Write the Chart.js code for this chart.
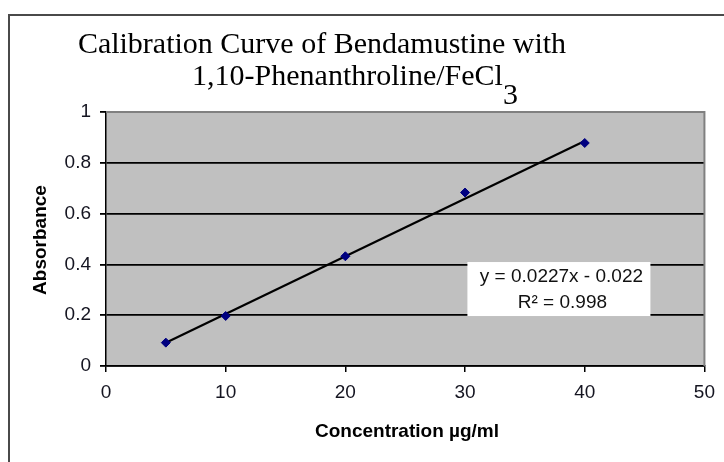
<!DOCTYPE html>
<html>
<head>
<meta charset="utf-8">
<script src="https://cdn.jsdelivr.net/npm/chart.js@4"></script>
<style>
  html, body { margin: 0; padding: 0; background: #fff; }
  #wrap { width: 724px; height: 462px; }
</style>
</head>
<body>
<div id="wrap"><canvas id="chart_cal" width="724" height="462"></canvas></div>
<script>
// concentration (ug/ml) and measured absorbance
var conc = [5, 10, 20, 30, 40];
var absorb = [0.092, 0.197, 0.432, 0.683, 0.878];

// linear trendline end points, y = 0.0227x - 0.022
var trend_x = [5, 40];
var trend_y = [0.0915, 0.886];

var x_ticks = [0, 10, 20, 30, 40, 50];
var y_ticks = [0, 0.2, 0.4, 0.6, 0.8, 1];

var titulo_1 = "Calibration Curve of Bendamustine with";
var titulo_2 = "1,10-Phenanthroline/FeCl";
var titulo_sub = "3";
var eq_lines = ["y = 0.0227x - 0.022", "R\u00b2 = 0.998"];
var eq_at = [37.8, 0.303]; // center of the label box, in data units

var puntos = conc.map(function (c, i) { return { x: c, y: absorb[i] }; });
var linea = trend_x.map(function (c, i) { return { x: c, y: trend_y[i] }; });

var fondo = {
    id: "fondo",
    beforeDraw: function (chart) {
        var c = chart.ctx, a = chart.chartArea;
        c.save();
        c.fillStyle = "#fff";
        c.fillRect(0, 0, chart.width, chart.height);
        // outer frame
        c.strokeStyle = "#4a4a4a";
        c.lineWidth = 2;
        c.beginPath();
        c.moveTo(9, 462);
        c.lineTo(9, 15);
        c.lineTo(724, 15);
        c.stroke();
        c.fillStyle = "#c0c0c0";
        c.fillRect(a.left, a.top, a.right - a.left, a.bottom - a.top);
        c.restore();
    },
    afterDraw: function (chart) {
        var c = chart.ctx, a = chart.chartArea;
        var sx = chart.scales.x, sy = chart.scales.y;
        c.save();
        // gray plot border top / right
        c.strokeStyle = "#808080";
        c.lineWidth = 2;
        c.beginPath();
        c.moveTo(a.left, a.top);
        c.lineTo(a.right, a.top);
        c.lineTo(a.right, a.bottom);
        c.stroke();

        // title
        c.fillStyle = "#000";
        c.textBaseline = "alphabetic";
        c.font = "30px 'Liberation Serif', 'Times New Roman', serif";
        c.textAlign = "center";
        c.fillText(titulo_1, 322, 53);
        var w2 = c.measureText(titulo_2).width;
        var w3 = c.measureText(titulo_sub).width;
        var x2 = 355 - (w2 + w3) / 2;
        c.textAlign = "left";
        c.fillText(titulo_2, x2, 85);
        c.fillText(titulo_sub, x2 + w2, 104);

        // axis titles
        c.font = "bold 19px 'Liberation Sans', Arial, sans-serif";
        c.textAlign = "center";
        c.textBaseline = "middle";
        c.fillText("Concentration \u00b5g/ml", 407, 432);
        c.translate(41, 240);
        c.rotate(-Math.PI / 2);
        c.fillText("Absorbance", 0, 0);
        c.setTransform(1, 0, 0, 1, 0, 0);

        // equation label
        var cx = sx.getPixelForValue(eq_at[0]);
        var cy = sy.getPixelForValue(eq_at[1]);
        c.fillStyle = "#fff";
        c.fillRect(cx - 91, cy - 27, 183, 54);
        c.fillStyle = "#111";
        c.font = "19px 'Liberation Sans', Arial, sans-serif";
        c.textBaseline = "alphabetic";
        c.fillText(eq_lines[0], cx + 3, cy - 7);
        c.fillText(eq_lines[1], cx + 4, cy + 19);
        c.restore();
    }
};

var ctx_cal = document.getElementById("chart_cal");
var chart_cal = new Chart(ctx_cal, {
    type: "scatter",
    data: {
        datasets: [
            {
                label: "Absorbance",
                data: puntos,
                pointStyle: "rectRot",
                pointRadius: 4.5,
                backgroundColor: "#000080",
                borderColor: "#000080",
                borderWidth: 1,
                order: 0,
            },
            {
                label: "Linear",
                type: "line",
                data: linea,
                borderColor: "#000",
                borderWidth: 2.2,
                pointRadius: 0,
                fill: false,
                order: 1,
            },
        ],
    },
    options: {
        responsive: false,
        animation: false,
        layout: { padding: { left: 0, top: 112, right: 15, bottom: 0 } },
        plugins: {
            legend: { display: false },
            tooltip: { enabled: false },
        },
        scales: {
            x: {
                type: "linear",
                min: 0,
                max: 50,
                afterFit: function (s) { s.height = 96; },
                afterBuildTicks: function (s) { s.ticks = x_ticks.map(function (v) { return { value: v }; }); },
                ticks: {
                    color: "#141420",
                    padding: 9,
                    maxRotation: 0,
                    callback: function (v) { return String(v); },
                    font: { family: "'Liberation Sans', Arial, sans-serif", size: 19 },
                },
                grid: { drawOnChartArea: false, color: "#000", tickLength: 6, lineWidth: 1.5 },
                border: { display: true, color: "#000", width: 1.5 },
            },
            y: {
                type: "linear",
                min: 0,
                max: 1,
                afterFit: function (s) { s.width = 106; },
                afterBuildTicks: function (s) { s.ticks = y_ticks.map(function (v) { return { value: v }; }); },
                ticks: {
                    color: "#141420",
                    padding: 9,
                    callback: function (v) { return String(Math.round(v * 10) / 10); },
                    font: { family: "'Liberation Sans', Arial, sans-serif", size: 19 },
                },
                grid: {
                    color: function (g) { return g.tick && g.tick.value === 1 ? "rgba(0,0,0,0)" : "#000"; },
                    tickColor: "#000",
                    tickLength: 6,
                    lineWidth: 1.8,
                },
                border: { display: true, color: "#000", width: 1.5 },
            },
        },
    },
    plugins: [fondo],
});
</script>
</body>
</html>
